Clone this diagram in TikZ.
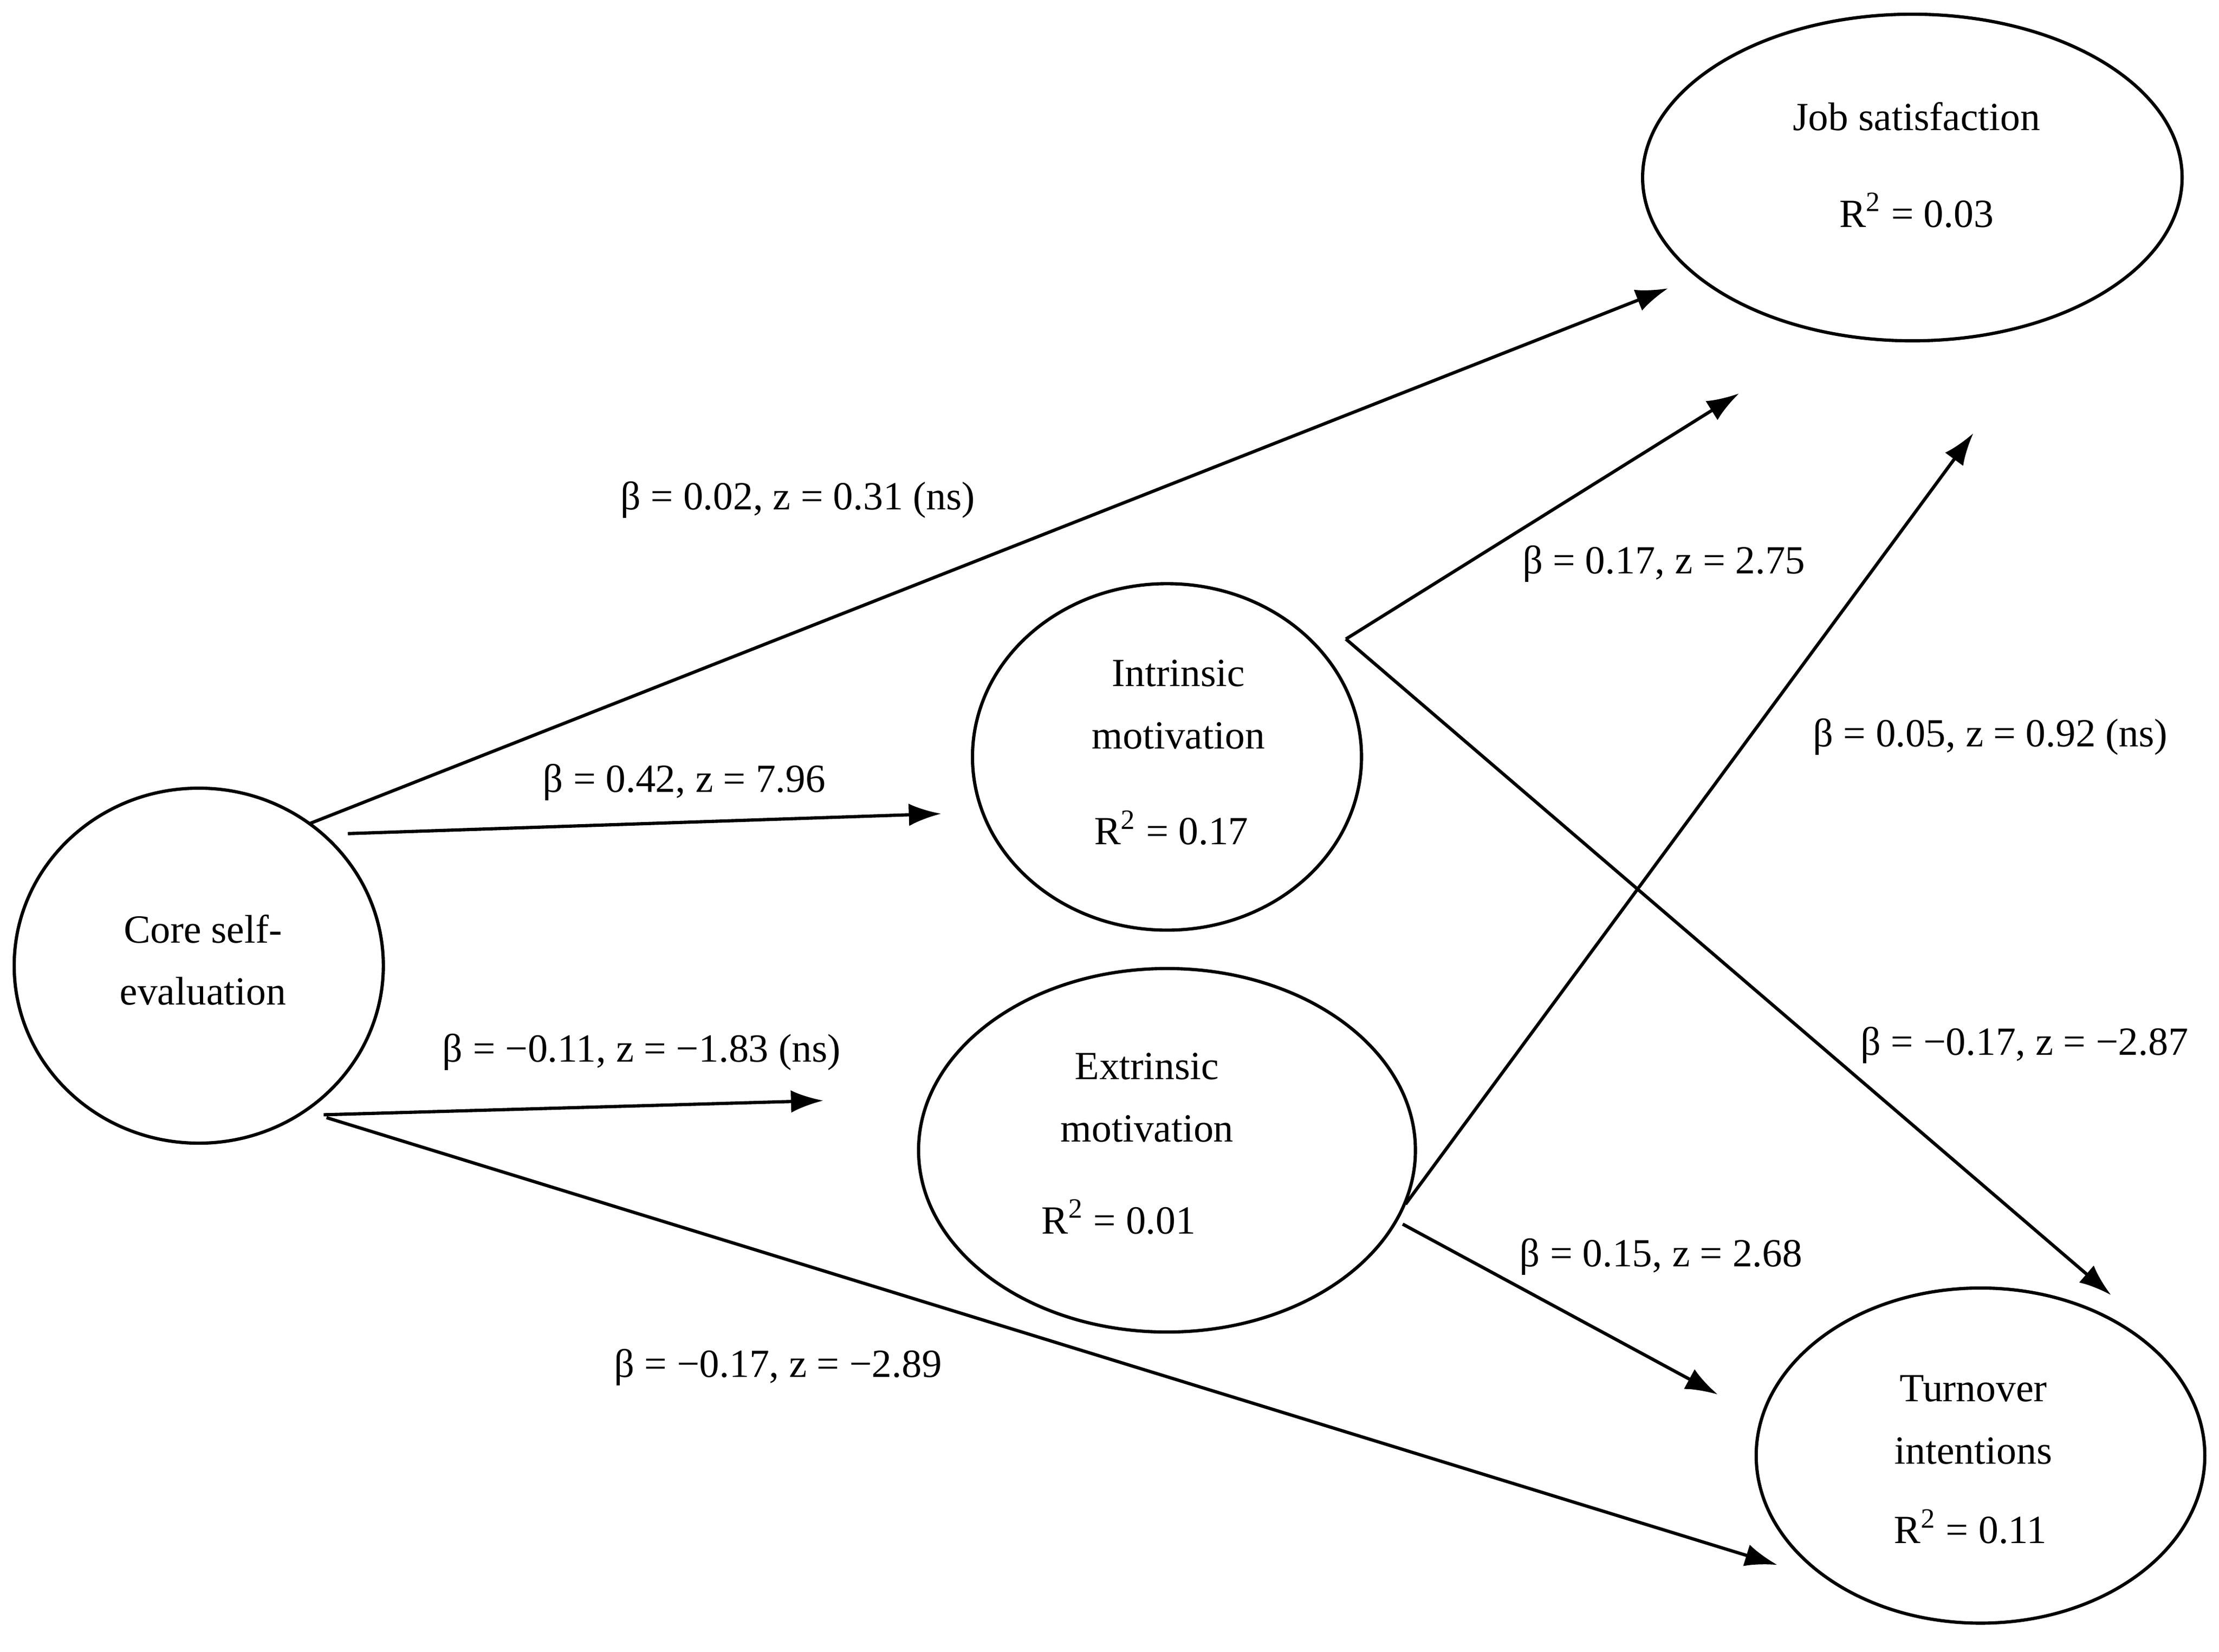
\documentclass[tikz,border=0pt]{standalone}
\usepackage{fontspec}
\setmainfont{Liberation Serif}
\usetikzlibrary{shapes.geometric,arrows.meta}
\tikzset{
  latent/.style={draw, ellipse, line width=1.3pt, inner sep=0pt},
  path/.style={line width=1.3pt, -{Latex[length=13pt,width=9pt]}},
  txt/.style={font=\fontsize{16}{19}\selectfont, align=center, inner sep=0pt},
}
\begin{document}
\begin{tikzpicture}[x=0.02cm,y=-0.02cm]
        \useasboundingbox (0,0) rectangle (1563,1163);
        % constructs
        \node[latent, minimum width=380*0.02cm, minimum height=230*0.02cm] (js) at (1347,125) {};
        \node[latent, minimum width=274*0.02cm, minimum height=244*0.02cm] (im) at (822,533) {};
        \node[latent, minimum width=260*0.02cm, minimum height=250*0.02cm] (cse) at (140,680) {};
        \node[latent, minimum width=350*0.02cm, minimum height=256*0.02cm] (em) at (822,810) {};
        \node[latent, minimum width=316*0.02cm, minimum height=236*0.02cm] (ti) at (1395,1025) {};
        \node[txt] (jsa) at (1350,82) {Job satisfaction};
        \node[txt] (jsb) at (1350,148) {R\textsuperscript{2} = 0.03};
        \node[txt] (ima) at (830,496) {Intrinsic\\[6pt]motivation};
        \node[txt] (imb) at (825,583) {R\textsuperscript{2} = 0.17};
        \node[txt] (csea) at (143,676) {Core self-\\[6pt]evaluation};
        \node[txt] (ema) at (808,773) {Extrinsic\\[6pt]motivation};
        \node[txt] (emb) at (788,857) {R\textsuperscript{2} = 0.01};
        \node[txt] (tia) at (1390,1000) {Turnover\\[6pt]intentions};
        \node[txt] (tib) at (1388,1075) {R\textsuperscript{2} = 0.11};

        % free arrow ends
        \coordinate (c1) at (218,580);  \coordinate (e1) at (1175,203);
        \coordinate (c2) at (245,587);  \coordinate (e2) at (663,573);
        \coordinate (i1) at (948,450);  \coordinate (e3) at (1225,277);
        \coordinate (e4) at (1487,912);
        \coordinate (x1) at (990,848);  \coordinate (e5) at (1390,305);
        \coordinate (c3) at (228,785);  \coordinate (e6) at (580,775);
        \coordinate (x2) at (988,862);  \coordinate (e7) at (1210,982);
        \coordinate (c4) at (230,787);  \coordinate (e8) at (1252,1102);

        \draw[path] (c1) -- (e1);
        \draw[path] (c2) -- (e2);
        \draw[path] (i1) -- (e3);
        \draw[path] (i1) -- (e4);
        \draw[path] (x1) -- (e5);
        \draw[path] (c3) -- (e6);
        \draw[path] (x2) -- (e7);
        \draw[path] (c4) -- (e8);

        % estimates
        \node[txt, fill=white, inner sep=1pt] (l5) at (1402,519) {β = 0.05, z = 0.92 (ns)};
        \node[txt, fill=white, inner sep=1pt] (l4) at (1426,736) {β = −0.17, z = −2.87};
        \node[txt] (l1) at (562,352) {β = 0.02, z = 0.31 (ns)};
        \node[txt] (l2) at (482,551) {β = 0.42, z = 7.96};
        \node[txt] (l3) at (1172,397) {β = 0.17, z = 2.75};
        \node[txt] (l6) at (452,741) {β = −0.11, z = −1.83 (ns)};
        \node[txt] (l7) at (1170,885) {β = 0.15, z = 2.68};
        \node[txt] (l8) at (548,963) {β = −0.17, z = −2.89};
\end{tikzpicture}
\end{document}
